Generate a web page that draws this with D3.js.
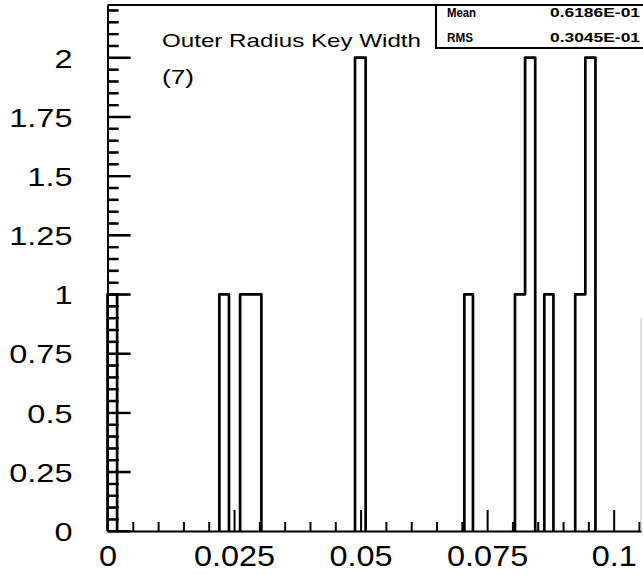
<!DOCTYPE html>
<html><head><meta charset="utf-8">
<script src="https://cdn.jsdelivr.net/npm/d3@7"></script>
<style>body{margin:0;background:#fff}svg{display:block}</style>
</head><body><svg id="c" width="643" height="575"></svg>
<script>
// ---- data ----
const titleText = "Outer Radius Key Width";
const histId = "(7)";
const statLabels = ["Mean", "RMS"];
const statValues = ["0.6186E-01", "0.3045E-01"];
const binLow  = [0.0000, 0.0221, 0.0262, 0.0283, 0.0489, 0.0705, 0.0805, 0.0825, 0.0863, 0.0924, 0.0944];
const binHigh = [0.0019, 0.0240, 0.0283, 0.0304, 0.0510, 0.0722, 0.0825, 0.0845, 0.0881, 0.0944, 0.0964];
const counts  = [1, 1, 1, 1, 2, 1, 1, 2, 1, 1, 2];
const xMajorTicks = [0, 0.025, 0.05, 0.075, 0.1];
const xTickLabels = ["0", "0.025", "0.05", "0.075", "0.1"];
const xMinorTicks = [0.005,0.01,0.015,0.02,0.03,0.035,0.04,0.045,0.055,0.06,0.065,0.07,0.08,0.085,0.09,0.095,0.105];
const yMajorTicks = [0, 0.25, 0.5, 0.75, 1, 1.25, 1.5, 1.75, 2];
const yTickLabels = ["0", "0.25", "0.5", "0.75", "1", "1.25", "1.5", "1.75", "2"];
const yMinorTicks = [0.05,0.1,0.15,0.2,0.3,0.35,0.4,0.45,0.55,0.6,0.65,0.7,0.8,0.85,0.9,0.95,
                     1.05,1.1,1.15,1.2,1.3,1.35,1.4,1.45,1.55,1.6,1.65,1.7,1.8,1.85,1.9,1.95,2.05,2.1,2.15,2.2];
const xDomain = [0, 0.1054];
const yDomain = [0, 2.222];

// ---- drawing ----
const svg = d3.select("#c");
const L = 107.5, R = 641, T = 5, B = 531;
const x = d3.scaleLinear().domain(xDomain).range([L, R]);
const y = d3.scaleLinear().domain(yDomain).range([B, T]);
const FONT = "'Liberation Sans', Arial, sans-serif";

function stretch(sel, f) {
  sel.each(function () {
    const w = this.getComputedTextLength();
    d3.select(this).attr("textLength", w * f).attr("lengthAdjust", "spacingAndGlyphs");
  });
}

// y ticks via axisRight placed on the left edge (ticks point inward)
svg.append("g").attr("transform", `translate(${L},0)`)
  .call(d3.axisRight(y).tickValues(yMinorTicks).tickSize(11).tickSizeOuter(0).tickFormat(""))
  .call(g => g.select(".domain").remove())
  .call(g => g.selectAll("line").attr("stroke", "#000").attr("stroke-width", 2));
svg.append("g").attr("transform", `translate(${L},0)`)
  .call(d3.axisRight(y).tickValues(yMajorTicks).tickSize(23).tickSizeOuter(0).tickFormat(""))
  .call(g => g.select(".domain").remove())
  .call(g => g.selectAll("line").attr("stroke", "#000").attr("stroke-width", 2));

// minor x ticks
svg.append("g").attr("transform", `translate(0,${B})`)
  .call(d3.axisBottom(x).tickValues(xMinorTicks).tickSize(-9).tickSizeOuter(0).tickFormat(""))
  .call(g => g.select(".domain").remove())
  .call(g => g.selectAll("line").attr("stroke", "#000").attr("stroke-width", 2));

// major axes
const xAxis = svg.append("g").attr("transform", `translate(0,${B})`)
  .call(d3.axisBottom(x).tickValues(xMajorTicks).tickSize(-21).tickSizeOuter(0)
    .tickPadding(14).tickFormat((d, i) => xTickLabels[i]));
xAxis.select(".domain").attr("stroke", "#000").attr("stroke-width", 2);
xAxis.selectAll("line").attr("stroke", "#000").attr("stroke-width", 2);
xAxis.selectAll("text").attr("font-family", FONT).attr("font-size", 30).attr("fill", "#000").call(stretch, 1.08);

const yAxis = svg.append("g").attr("transform", `translate(${L},0)`)
  .call(d3.axisLeft(y).tickValues(yMajorTicks).tickSize(0).tickSizeOuter(0)
    .tickPadding(35).tickFormat((d, i) => yTickLabels[i]));
yAxis.select(".domain").attr("stroke", "#000").attr("stroke-width", 2);
yAxis.selectAll("text").attr("font-family", FONT).attr("font-size", 25).attr("fill", "#000")
  .attr("dy", "0.38em").call(stretch, 1.3);

// frame
svg.append("line").attr("x1", L).attr("x2", 643).attr("y1", T).attr("y2", T)
  .attr("stroke", "#000").attr("stroke-width", 2);
svg.append("line").attr("x1", R).attr("x2", R).attr("y1", y(0.9)).attr("y2", B)
  .attr("stroke", "#bbb").attr("stroke-width", 1);

// histogram outline
const groups = [];
binLow.forEach((lo, i) => {
  const bin = { lo, hi: binHigh[i], c: counts[i] };
  const g = groups[groups.length - 1];
  if (g && Math.abs(g[g.length - 1].hi - lo) < 1e-6) g.push(bin); else groups.push([bin]);
});
const stepLine = d3.line().x(d => x(d[0])).y(d => y(d[1]));
groups.forEach(g => {
  const pts = [[g[0].lo, 0]];
  g.forEach(b => { pts.push([b.lo, b.c]); pts.push([b.hi, b.c]); });
  pts.push([g[g.length - 1].hi, 0]);
  svg.append("path").attr("d", stepLine(pts)).attr("fill", "none").attr("stroke", "#000")
    .attr("stroke-width", 2.7).attr("stroke-linejoin", "round");
});

// title
svg.append("text").attr("x", 162).attr("y", 47).text(titleText)
  .attr("font-family", FONT).attr("font-size", 19).attr("fill", "#000")
  .attr("textLength", 259).attr("lengthAdjust", "spacingAndGlyphs");
svg.append("text").attr("x", 162).attr("y", 84).text(histId)
  .attr("font-family", FONT).attr("font-size", 20).attr("fill", "#000")
  .attr("textLength", 32).attr("lengthAdjust", "spacingAndGlyphs");

// stats box
svg.append("path").attr("d", `M436,${T} L436,48 L643,48`).attr("fill", "none")
  .attr("stroke", "#000").attr("stroke-width", 2);
const rowsY = [17, 42];
statLabels.forEach((s, i) => {
  svg.append("text").attr("x", 447).attr("y", rowsY[i]).text(s)
    .attr("font-family", FONT).attr("font-weight", "bold").attr("font-size", 12.5).attr("fill", "#000")
    .attr("textLength", i === 0 ? 29 : 26).attr("lengthAdjust", "spacingAndGlyphs");
  svg.append("text").attr("x", 550).attr("y", rowsY[i]).text(statValues[i])
    .attr("font-family", FONT).attr("font-weight", "bold").attr("font-size", 13).attr("fill", "#000")
    .attr("textLength", 90).attr("lengthAdjust", "spacingAndGlyphs");
});

// y ticks also as one path from the y scale (drawn on top)
const tickPath = yMinorTicks.map(v => `M${L},${y(v)}h11`).join("") +
                 yMajorTicks.map(v => `M${L},${y(v)}h23`).join("");
svg.append("path").attr("d", tickPath).attr("fill", "none")
  .attr("style", "stroke:#000;stroke-width:2px");
</script></body></html>
